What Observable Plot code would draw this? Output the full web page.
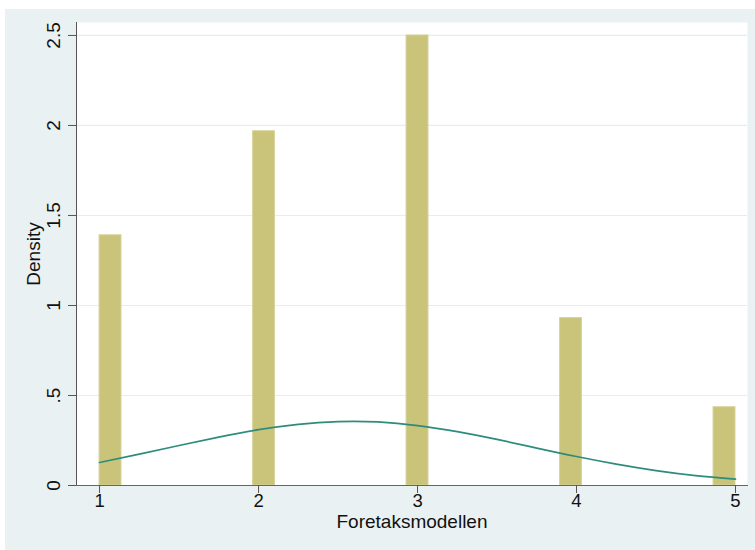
<!DOCTYPE html>
<html>
<head>
<meta charset="utf-8">
<script src="https://cdn.jsdelivr.net/npm/d3@7"></script>
<script src="https://cdn.jsdelivr.net/npm/@observablehq/plot@0.6"></script>
<style>
  html, body { margin: 0; padding: 0; background: #ffffff; }
  #chart { padding: 9px 0 0 5px; }
  #chart svg { display: block; background: #eaf1f3; }
</style>
</head>
<body>
<div id="chart"></div>
<script>
// Histogram of Foretaksmodellen (29 bins of width 4/29 over 1..5), density scale
const binLo   = [1.000, 1.966, 2.931, 3.897, 4.862];
const binHi   = [1.138, 2.103, 3.069, 4.034, 5.000];
const density = [1.39, 1.968, 2.50, 0.93, 0.435];

// Normal density overlay, sampled along the x range
const curveX = [1, 1.25, 1.5, 1.75, 2, 2.25, 2.5, 2.75, 3, 3.25, 3.5, 3.75, 4, 4.25, 4.5, 4.75, 5];
const curveY = [0.128, 0.174, 0.222, 0.269, 0.310, 0.340, 0.355, 0.353, 0.333, 0.299, 0.256, 0.208, 0.161, 0.119, 0.083, 0.055, 0.035];

const xTicks = [1, 2, 3, 4, 5];
const yTicks = [0, 0.5, 1, 1.5, 2, 2.5];
const yTickLabels = ["0", ".5", "1", "1.5", "2", "2.5"];

const bars = binLo.map((lo, i) => ({lo, hi: binHi[i], density: density[i]}));
const curve = curveX.map((x, i) => ({x, y: curveY[i]}));
const yLabelRows = yTicks.map((v, i) => ({v, label: yTickLabels[i]}));

const font = "Helvetica, Arial, 'Liberation Sans', sans-serif";
const ink = "#111111";

const chart = Plot.plot({
  width: 750,
  height: 541,
  marginLeft: 71,
  marginRight: 8,
  marginTop: 13,
  marginBottom: 65,
  style: {fontFamily: font, fontSize: "18px", color: ink, background: "#eaf1f3"},
  x: {domain: [0.855, 5.0755]},
  y: {domain: [0, 2.572]},
  marks: [
    Plot.frame({fill: "#ffffff", stroke: null}),
    Plot.gridY(yTicks.filter(d => d > 0), {stroke: "#e3eef1", strokeOpacity: 1, strokeWidth: 1.2}),
    Plot.rectY(bars, {x1: "lo", x2: "hi", y: "density", fill: "#c9c47a", stroke: "#d6d39c", strokeWidth: 1}),
    Plot.line(curve, {x: "x", y: "y", stroke: "#2e8c7c", strokeWidth: 1.7, curve: "natural"}),
    Plot.frame({anchor: "left", stroke: "#555"}),
    Plot.frame({anchor: "bottom", stroke: "#666"}),
    // tick marks only; labels are drawn as text marks below
    Plot.axisX({ticks: xTicks, tickFormat: () => "", tickSize: 8, stroke: "#555", label: null}),
    Plot.axisY({ticks: yTicks, tickFormat: () => "", tickSize: 8, stroke: "#555", label: null}),
    Plot.text(xTicks, {x: d => d, text: d => String(d), frameAnchor: "bottom", dy: 21, fontSize: 18.5, fill: ink}),
    Plot.text(yLabelRows, {y: "v", text: "label", frameAnchor: "left", dx: -23, rotate: -90, textAnchor: "middle", fontSize: 19, fill: ink}),
    Plot.text(["Foretaksmodellen"], {frameAnchor: "bottom", dy: 42.5, textAnchor: "middle", fontSize: 19, fill: ink}),
    Plot.text(["Density"], {frameAnchor: "left", dx: -43, rotate: -90, textAnchor: "middle", fontSize: 19, fill: ink})
  ]
});

document.getElementById("chart").appendChild(chart);
</script>
</body>
</html>
